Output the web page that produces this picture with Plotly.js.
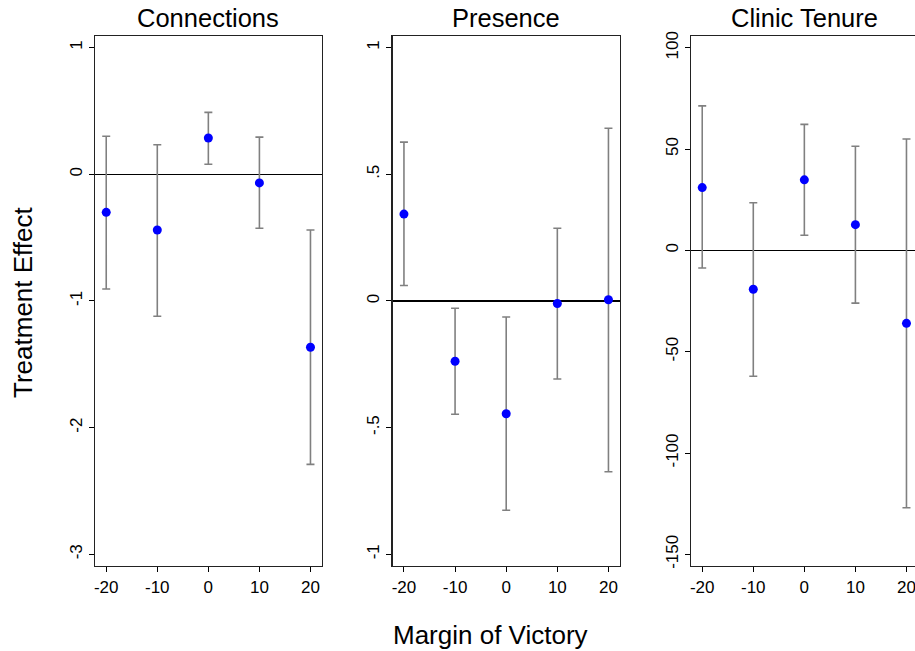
<!DOCTYPE html>
<html>
<head>
<meta charset="utf-8">
<script src="https://cdn.plot.ly/plotly-3.0.1.min.js"></script>
<style>
html,body{margin:0;padding:0;overflow:hidden;background:#fff;}
#chart{width:920px;height:651px;}
</style>
</head>
<body>
<div id="chart"></div>
<script>
// ---- data ----
const margins = [-20, -10, 0, 10, 20];
const panelTitles = ["Connections", "Presence", "Clinic Tenure"];

const connEst = [-0.30, -0.44, 0.287, -0.068, -1.365];
const connLo  = [-0.905, -1.12, 0.079, -0.426, -2.29];
const connHi  = [0.30, 0.234, 0.489, 0.294, -0.44];

const presEst = [0.343, -0.238, -0.445, -0.010, 0.005];
const presLo  = [0.061, -0.447, -0.826, -0.308, -0.674];
const presHi  = [0.627, -0.029, -0.063, 0.287, 0.682];

const tenEst = [31.0, -19.2, 34.8, 12.7, -36.0];
const tenLo  = [-8.7, -62.1, 7.5, -26.0, -127.0];
const tenHi  = [71.3, 23.5, 62.2, 51.4, 55.0];

const connTickVals = [1, 0, -1, -2, -3];
const connTickText = ["1", "0", "-1", "-2", "-3"];
const presTickVals = [1, 0.5, 0, -0.5, -1];
const presTickText = ["1", ".5", "0", "-.5", "-1"];
const tenTickVals = [100, 50, 0, -50, -100, -150];
const tenTickText = ["100", "50", "0", "-50", "-100", "-150"];
const xTickVals = [-20, -10, 0, 10, 20];
const xTickText = ["-20", "-10", "0", "10", "20"];

// ---- build ----
const W = 920, H = 651;
const FONT = "Liberation Sans, Arial, Helvetica, sans-serif";
const panels = [
  {est: connEst, lo: connLo, hi: connHi, tv: connTickVals, tt: connTickText, range: [-3.09, 1.092], px: [95, 321.7]},
  {est: presEst, lo: presLo, hi: presHi, tv: presTickVals, tt: presTickText, range: [-1.045, 1.046], px: [392.7, 619.7]},
  {est: tenEst, lo: tenLo, hi: tenHi, tv: tenTickVals, tt: tenTickText, range: [-155.6, 105.8], px: [691, 917.7]}
];
const yDom = [1 - 565.7 / H, 1 - 36 / H];

const traces = [];
const layout = {
  width: W, height: H,
  margin: {l: 0, r: 0, t: 0, b: 0},
  paper_bgcolor: "#fff", plot_bgcolor: "#fff",
  showlegend: false,
  font: {family: FONT, color: "#000"},
  annotations: []
};

panels.forEach((p, i) => {
  const n = i === 0 ? "" : String(i + 1);
  traces.push({
    type: "scatter", mode: "markers",
    x: margins, y: p.est,
    xaxis: "x" + n, yaxis: "y" + n,
    marker: {color: "#0000ff", size: 9},
    error_y: {
      type: "data", symmetric: false,
      array: p.hi.map((h, k) => h - p.est[k]),
      arrayminus: p.est.map((e, k) => e - p.lo[k]),
      color: "#808080", thickness: 1.6, width: 4
    },
    cliponaxis: false
  });
  layout["xaxis" + n] = {
    domain: [p.px[0] / W, p.px[1] / W],
    anchor: "y" + n,
    range: [-22.2, 22.2],
    tickvals: xTickVals, ticktext: xTickText,
    ticks: "outside", ticklen: 5, tickwidth: 1, tickcolor: "#000",
    tickfont: {size: 17, family: FONT, color: "#000"},
    showgrid: false, zeroline: false,
    showline: true, linecolor: "#222", linewidth: 1.5, mirror: true,
    fixedrange: true
  };
  layout["yaxis" + n] = {
    domain: yDom,
    anchor: "x" + n,
    range: p.range,
    tickvals: p.tv, ticktext: p.tt,
    tickangle: -90,
    ticks: "outside", ticklen: 5, tickwidth: 1, tickcolor: "#000",
    tickfont: {size: 17, family: FONT, color: "#000"},
    showgrid: false,
    zeroline: true, zerolinecolor: "#000", zerolinewidth: 1.6,
    showline: true, linecolor: "#222", linewidth: 1.5, mirror: true,
    fixedrange: true
  };
  layout.annotations.push({
    text: panelTitles[i], xref: "paper", yref: "paper",
    x: (p.px[0] + p.px[1]) / 2 / W, y: 1 - 18 / H,
    xanchor: "center", yanchor: "middle", showarrow: false,
    font: {size: 25.5, family: FONT, color: "#000"}
  });
});

layout.annotations.push({
  text: "Treatment Effect", xref: "paper", yref: "paper",
  x: 23 / W, y: 1 - 302 / H, textangle: -90,
  xanchor: "center", yanchor: "middle", showarrow: false,
  font: {size: 26, family: FONT, color: "#000"}
});
layout.annotations.push({
  text: "Margin of Victory", xref: "paper", yref: "paper",
  x: 490 / W, y: 1 - 635 / H,
  xanchor: "center", yanchor: "middle", showarrow: false,
  font: {size: 26, family: FONT, color: "#000"}
});

Plotly.newPlot("chart", traces, layout, {displayModeBar: false, staticPlot: true});
</script>
</body>
</html>
